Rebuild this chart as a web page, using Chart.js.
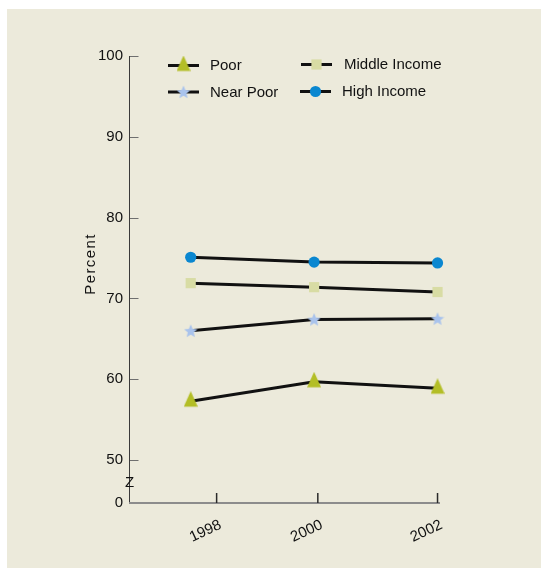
<!DOCTYPE html>
<html>
<head>
<meta charset="utf-8">
<script src="https://cdn.jsdelivr.net/npm/chart.js@4.4.1/dist/chart.umd.min.js"></script>
<style>
  html, body { margin: 0; padding: 0; background: #ffffff; }
  #wrap { width: 541px; height: 568px; position: relative; }
</style>
</head>
<body>
<div id="wrap"><canvas id="c" width="541" height="568"></canvas></div>
<script>
// ---- data ----
const years = [1998, 2000, 2002];
const seriesNames = ['Poor', 'Near Poor', 'Middle Income', 'High Income'];
const poor = [57.3, 59.7, 58.9];
const nearPoor = [66.0, 67.4, 67.5];
const middleIncome = [71.9, 71.4, 70.8];
const highIncome = [75.1, 74.5, 74.4];
const yTickValues = [50, 60, 70, 80, 90, 100];
const yBreakLabel = '0';
const xTickLabels = ['1998', '2000', '2002'];

// ---- style ----
const FONT = '"Liberation Sans", Arial, Helvetica, sans-serif';
const BG = '#ECEADB';
const Y_MIN = 44.7, Y_MAX = 100;
const X_MIN = 1997.0, X_MAX = 2002.04;
const X_TICK_SHIFT = [0.42, 0.06, 0.0]; // tick marks drawn slightly off the data years, as in the original

function starCanvas(size, color) {
  const c = document.createElement('canvas');
  c.width = size; c.height = size;
  const g = c.getContext('2d');
  const cx = size / 2, cy = size / 2 + 0.6, R = size / 2, r = R * 0.45;
  g.beginPath();
  for (let i = 0; i < 10; i++) {
    const rad = i % 2 === 0 ? R : r;
    const a = -Math.PI / 2 + i * Math.PI / 5;
    const px = cx + rad * Math.cos(a), py = cy + rad * Math.sin(a);
    if (i === 0) g.moveTo(px, py); else g.lineTo(px, py);
  }
  g.closePath();
  g.fillStyle = color;
  g.fill();
  return c;
}
function triangleCanvas(w, h, triH, color) {
  const c = document.createElement('canvas');
  c.width = w; c.height = h;
  const g = c.getContext('2d');
  g.beginPath();
  g.moveTo(w / 2, 0);
  g.lineTo(w, triH);
  g.lineTo(0, triH);
  g.closePath();
  g.fillStyle = color;
  g.fill();
  return c;
}
const star = starCanvas(14, '#A9C3EC');
const tri = triangleCanvas(14, 20, 15.5, '#B3BE26');

const markers = [
  { pointStyle: tri, radius: 8.5, color: '#B3BE26' },
  { pointStyle: star, radius: 7, color: '#A9C3EC' },
  { pointStyle: 'rect', radius: 7.2, color: '#D8DCA4' },
  { pointStyle: 'circle', radius: 5.6, color: '#0A87D0' }
];
const seriesValues = [poor, nearPoor, middleIncome, highIncome];

const datasets = seriesValues.map((vals, i) => ({
  label: seriesNames[i],
  data: years.map((yr, j) => ({ x: yr, y: vals[j] })),
  borderColor: '#111111',
  borderWidth: 3,
  tension: 0,
  clip: false,
  pointStyle: markers[i].pointStyle,
  pointRadius: markers[i].radius,
  pointHoverRadius: markers[i].radius,
  pointBackgroundColor: markers[i].color,
  pointBorderColor: markers[i].color,
  pointBorderWidth: 0
}));

const decor = {
  id: 'decor',
  beforeDraw(chart) {
    const ctx = chart.ctx;
    ctx.save();
    ctx.fillStyle = '#ffffff';
    ctx.fillRect(0, 0, chart.width, chart.height);
    ctx.fillStyle = BG;
    ctx.fillRect(7, 9, chart.width - 7, chart.height - 9);
    ctx.restore();
  },
  beforeDatasetsDraw(chart) {
    const ctx = chart.ctx;
    const xs = chart.scales.x, ys = chart.scales.y;
    const left = Math.round(xs.left) + 0.5;
    const bottom = ys.getPixelForValue(Y_MIN);
    ctx.save();
    // y ticks (inward)
    ctx.strokeStyle = '#6f6f6f';
    ctx.lineWidth = 1;
    yTickValues.forEach(v => {
      const py = Math.round(ys.getPixelForValue(v)) + 0.5;
      ctx.beginPath(); ctx.moveTo(left, py); ctx.lineTo(left + 9, py); ctx.stroke();
    });
    // y axis line
    ctx.strokeStyle = '#3a3a3a';
    ctx.beginPath(); ctx.moveTo(left, ys.getPixelForValue(Y_MAX)); ctx.lineTo(left, bottom); ctx.stroke();
    // x axis line
    ctx.strokeStyle = '#8c8c8c';
    ctx.lineWidth = 2;
    ctx.beginPath(); ctx.moveTo(left - 0.5, bottom); ctx.lineTo(xs.getPixelForValue(X_MAX), bottom); ctx.stroke();
    // x tick marks (inward)
    ctx.strokeStyle = '#2a2a2a';
    ctx.lineWidth = 1.5;
    xs.ticks.forEach(t => {
      const px = xs.getPixelForValue(t.value);
      ctx.beginPath(); ctx.moveTo(px, bottom); ctx.lineTo(px, bottom - 10); ctx.stroke();
    });
    // axis break mark
    ctx.fillStyle = '#111111';
    ctx.font = '15px ' + FONT;
    ctx.textAlign = 'center';
    ctx.textBaseline = 'middle';
    ctx.fillText('Z', left, ys.getPixelForValue((Y_MIN + 50) / 2) + 1);
    // y title
    ctx.save();
    ctx.translate(91, 264);
    ctx.rotate(-Math.PI / 2);
    try { ctx.letterSpacing = '1.4px'; } catch (e) {}
    ctx.font = '15px ' + FONT;
    ctx.fillStyle = '#111111';
    ctx.fillText('Percent', 0, 0);
    ctx.restore();
    ctx.restore();
  },
  afterDraw(chart) {
    // legend, 2 x 2
    const ctx = chart.ctx;
    const slots = [
      { lx: 168, y: 65.5, tx: 210 },
      { lx: 168, y: 92, tx: 210 },
      { lx: 301, y: 64.5, tx: 344 },
      { lx: 300, y: 91.5, tx: 342 }
    ];
    ctx.save();
    chart.data.datasets.forEach((ds, i) => {
      const s = slots[i];
      ctx.strokeStyle = '#111111';
      ctx.lineWidth = 3;
      ctx.beginPath(); ctx.moveTo(s.lx, s.y); ctx.lineTo(s.lx + 31, s.y); ctx.stroke();
      ctx.fillStyle = ds.pointBackgroundColor;
      ctx.strokeStyle = ds.pointBackgroundColor;
      ctx.lineWidth = 0;
      Chart.helpers.drawPoint(ctx, {
        pointStyle: ds.pointStyle, radius: ds.pointRadius, rotation: 0, borderWidth: 0
      }, s.lx + 15.5, s.y);
      ctx.fillStyle = '#111111';
      ctx.font = '15px ' + FONT;
      ctx.textAlign = 'left';
      ctx.textBaseline = 'middle';
      ctx.fillText(ds.label, s.tx, s.y + 0.5);
    });
    ctx.restore();
  }
};

new Chart(document.getElementById('c'), {
  type: 'line',
  data: { datasets },
  options: {
    responsive: false,
    animation: false,
    events: [],
    layout: { padding: { left: 0, top: 56, right: 101, bottom: 0 } },
    plugins: { legend: { display: false }, tooltip: { enabled: false } },
    scales: {
      x: {
        type: 'linear',
        min: X_MIN, max: X_MAX,
        grid: { display: false, drawTicks: false },
        border: { display: false },
        afterBuildTicks(scale) {
          scale.ticks = years.map((yr, i) => ({ value: yr + X_TICK_SHIFT[i], label: xTickLabels[i] }));
        },
        afterFit(scale) { scale.height = 65; },
        ticks: {
          autoSkip: false,
          minRotation: 25, maxRotation: 25,
          padding: 13,
          labelOffset: 4,
          color: '#111111',
          font: { family: FONT, size: 15 },
          callback(value, index) { return xTickLabels[index]; }
        }
      },
      y: {
        type: 'linear',
        min: Y_MIN, max: Y_MAX,
        grid: { display: false, drawTicks: false },
        border: { display: false },
        afterBuildTicks(scale) {
          scale.ticks = [{ value: Y_MIN }].concat(yTickValues.map(v => ({ value: v })));
        },
        afterFit(scale) { scale.width = 129; },
        ticks: {
          padding: 6,
          color: '#111111',
          font: { family: FONT, size: 15 },
          callback(value) { return value === Y_MIN ? yBreakLabel : String(value); }
        }
      }
    }
  },
  plugins: [decor]
});
</script>
</body>
</html>
